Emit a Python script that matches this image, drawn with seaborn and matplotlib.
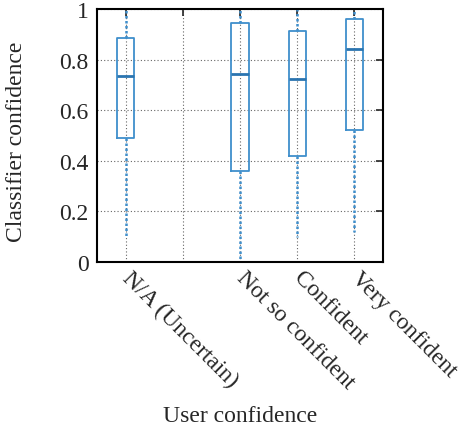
import numpy as np
import pandas as pd
import matplotlib
matplotlib.use("Agg")
import matplotlib.pyplot as plt
import seaborn as sns

# user confidence categories (second one has no answers)
categories = ["N/A (Uncertain)", "Not confident", "Not so confident", "Confident", "Very confident"]
tick_labels = ["N/A (Uncertain)", "", "Not so confident", "Confident", "Very confident"]

# five-number summaries: min, q1, median, q3, max
na_vals = [0.10, 0.49, 0.734, 0.886, 1.0]
notso_vals = [0.0, 0.36, 0.742, 0.945, 1.0]
conf_vals = [0.10, 0.419, 0.721, 0.911, 1.0]
very_vals = [0.12, 0.523, 0.840, 0.961, 1.0]

rows = []
for cat, vals in [("N/A (Uncertain)", na_vals), ("Not so confident", notso_vals),
                  ("Confident", conf_vals), ("Very confident", very_vals)]:
    for v in vals:
        rows.append({"User confidence": cat, "Classifier confidence": v})
df = pd.DataFrame(rows)

sns.set_style("white")
plt.rcParams['font.family'] = ['Liberation Serif', 'DejaVu Serif']
plt.rcParams['font.size'] = 17

fig = plt.figure(figsize=(4.66, 4.31), dpi=100)
ax = fig.add_axes([0.208, 0.390, 0.614, 0.587])

blue = "#3f8fcc"
sns.boxplot(data=df, x="User confidence", y="Classifier confidence", order=categories,
            fill=False, color=blue, width=0.3, whis=(0, 100), linewidth=1.3,
            showcaps=False, ax=ax,
            boxprops=dict(color=blue, linewidth=1.3),
            medianprops=dict(color="#2a74b0", linewidth=2.0),
            whiskerprops=dict(color="#3f8fcc", linewidth=1.8, linestyle=(0, (1, 1))))

ax.set_xlim(-0.5, 4.5)
ax.set_ylim(0, 1)
ax.set_yticks([0, 0.2, 0.4, 0.6, 0.8, 1.0])
ax.set_yticklabels(["0", "0.2", "0.4", "0.6", "0.8", "1"])
ax.set_xticks(range(len(categories)))
ax.set_xticklabels(tick_labels, rotation=-45, ha="left", va="center", rotation_mode="anchor")
for lab in ax.get_xticklabels():
    lab.set_fontsize(17)
for lab in ax.get_yticklabels():
    lab.set_fontsize(17)

ax.grid(True, color="#666666", linestyle=(0, (1, 2)), linewidth=0.8)
ax.set_axisbelow(True)
for s in ax.spines.values():
    s.set_visible(True)
    s.set_color("black")
    s.set_linewidth(1.5)
ax.tick_params(direction="in", length=5, width=1.2, top=True, right=True, pad=6)
ax.tick_params(axis="x", pad=9)

ax.set_xlabel("User confidence", fontsize=17)
ax.set_ylabel("Classifier confidence", fontsize=17)
ax.xaxis.set_label_coords(0.5, -0.565)
ax.yaxis.set_label_coords(-0.245, 0.48)

fig.savefig("out.png", dpi=100)
